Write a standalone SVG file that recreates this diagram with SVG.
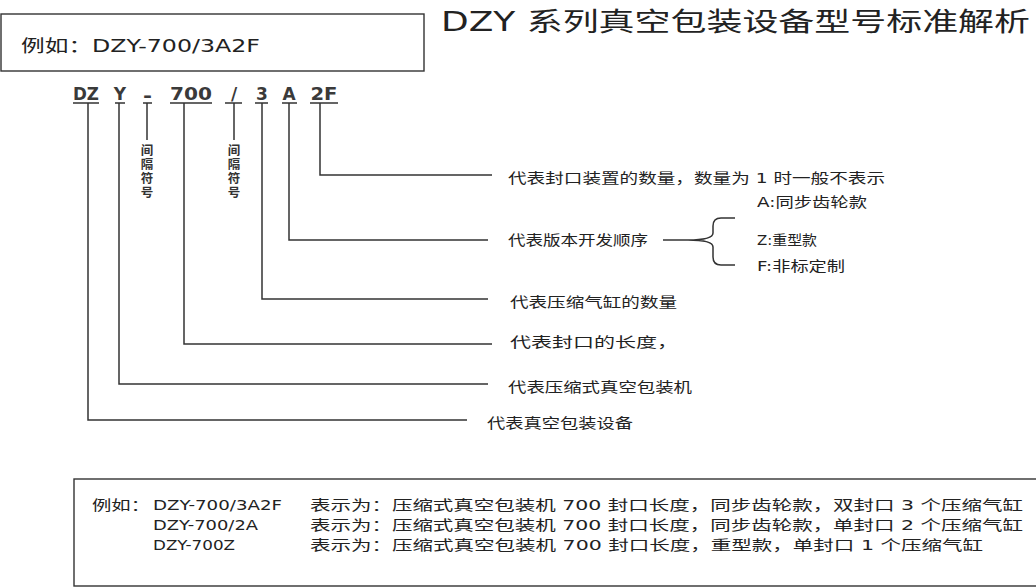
<svg xmlns="http://www.w3.org/2000/svg" width="1036" height="588" viewBox="0 0 1036 588">
<style>
.t{font-family:"DejaVu Sans","Noto Sans CJK SC",sans-serif;fill:#222}
.lbl{font-size:14px}
.code{font-family:"DejaVu Sans","Noto Sans CJK SC",sans-serif;font-size:17px;font-weight:bold;fill:#3a3a3a;text-anchor:middle}
.sep{font-family:"Noto Sans CJK SC",sans-serif;font-size:12.5px;font-weight:bold;fill:#333;writing-mode:vertical-rl;letter-spacing:1.5px}
.ln{fill:none;stroke:#333;stroke-width:1.5}
.box{fill:#fff;stroke:#333;stroke-width:1.4}
</style>
<rect width="1036" height="588" fill="#fff"/>
<g id="example-box">
<rect class="box" x="1" y="14" width="423" height="57"/>
<text class="t" x="21" y="52" font-size="17" textLength="239" lengthAdjust="spacingAndGlyphs">例如：DZY-700/3A2F</text>
</g>
<g id="title">
<text class="t" x="441" y="31" font-size="26" fill="#1a1a1a" textLength="589" lengthAdjust="spacingAndGlyphs">DZY 系列真空包装设备型号标准解析</text>
</g>
<g id="code">
<text class="code" x="86" y="100" textLength="26" lengthAdjust="spacingAndGlyphs">DZ</text>
<text class="code" x="120" y="100">Y</text>
<text class="code" x="147.5" y="102" textLength="9" lengthAdjust="spacingAndGlyphs">-</text>
<text class="code" x="191" y="100" textLength="42" lengthAdjust="spacingAndGlyphs">700</text>
<text class="code" x="234" y="100">/</text>
<text class="code" x="262" y="100">3</text>
<text class="code" x="289" y="100">A</text>
<text class="code" x="324" y="100" textLength="27" lengthAdjust="spacingAndGlyphs">2F</text>
<path class="ln" d="M73 103H99M115 103H125M143 103H152M170 103H212M225 103H242M255 103H268M282 103H297M310 103H338"/>
</g>
<g id="separator-1">
<text class="sep" x="147" y="144">间隔符号</text>
</g>
<g id="separator-2">
<text class="sep" x="234" y="144">间隔符号</text>
</g>
<g id="connectors">
<path class="ln" d="M320 103V175H492"/>
<path class="ln" d="M289 103V240H488"/>
<path class="ln" d="M262 103V299H488"/>
<path class="ln" d="M184 103V344H492"/>
<path class="ln" d="M119 103V384H488"/>
<path class="ln" d="M88 103V420H467"/>
<path class="ln" d="M147 103V140"/>
<path class="ln" d="M234 103V140"/>
<path class="ln" d="M663 240H688"/>
<path class="ln" d="M735 218H721Q713 218 713 226V233Q713 240 688 240Q713 240 713 247V257Q713 265 721 265H735"/>
</g>
<g id="label-2F"><text class="t lbl" x="508" y="183" textLength="377" lengthAdjust="spacingAndGlyphs">代表封口装置的数量，数量为 1 时一般不表示</text></g>
<g id="label-A"><text class="t lbl" x="508" y="245" textLength="140" lengthAdjust="spacingAndGlyphs">代表版本开发顺序</text></g>
<g id="option-A"><text class="t lbl" x="757" y="207" textLength="110" lengthAdjust="spacingAndGlyphs">A:同步齿轮款</text></g>
<g id="option-Z"><text class="t lbl" x="757" y="245" textLength="60" lengthAdjust="spacingAndGlyphs">Z:重型款</text></g>
<g id="option-F"><text class="t lbl" x="757" y="271" textLength="88" lengthAdjust="spacingAndGlyphs">F:非标定制</text></g>
<g id="label-3"><text class="t lbl" x="510" y="307" textLength="167" lengthAdjust="spacingAndGlyphs">代表压缩气缸的数量</text></g>
<g id="label-700"><text class="t lbl" x="510" y="347" textLength="168" lengthAdjust="spacingAndGlyphs">代表封口的长度，</text></g>
<g id="label-Y"><text class="t lbl" x="508" y="392" textLength="184" lengthAdjust="spacingAndGlyphs">代表压缩式真空包装机</text></g>
<g id="label-DZ"><text class="t lbl" x="487" y="428" textLength="146" lengthAdjust="spacingAndGlyphs">代表真空包装设备</text></g>
<g id="examples-box">
<rect class="box" x="74" y="479" width="980" height="107"/>
<text class="t lbl" x="92" y="510" textLength="58" lengthAdjust="spacingAndGlyphs">例如：</text>
<text class="t lbl" x="153" y="510" textLength="129" lengthAdjust="spacingAndGlyphs">DZY-700/3A2F</text>
<text class="t lbl" x="153" y="530" textLength="105" lengthAdjust="spacingAndGlyphs">DZY-700/2A</text>
<text class="t lbl" x="153" y="550" textLength="82" lengthAdjust="spacingAndGlyphs">DZY-700Z</text>
<text class="t lbl" x="310" y="510" textLength="713" lengthAdjust="spacingAndGlyphs">表示为：压缩式真空包装机 700 封口长度，同步齿轮款，双封口 3 个压缩气缸</text>
<text class="t lbl" x="310" y="530" textLength="713" lengthAdjust="spacingAndGlyphs">表示为：压缩式真空包装机 700 封口长度，同步齿轮款，单封口 2 个压缩气缸</text>
<text class="t lbl" x="310" y="550" textLength="673" lengthAdjust="spacingAndGlyphs">表示为：压缩式真空包装机 700 封口长度，重型款，单封口 1 个压缩气缸</text>
</g>
</svg>
